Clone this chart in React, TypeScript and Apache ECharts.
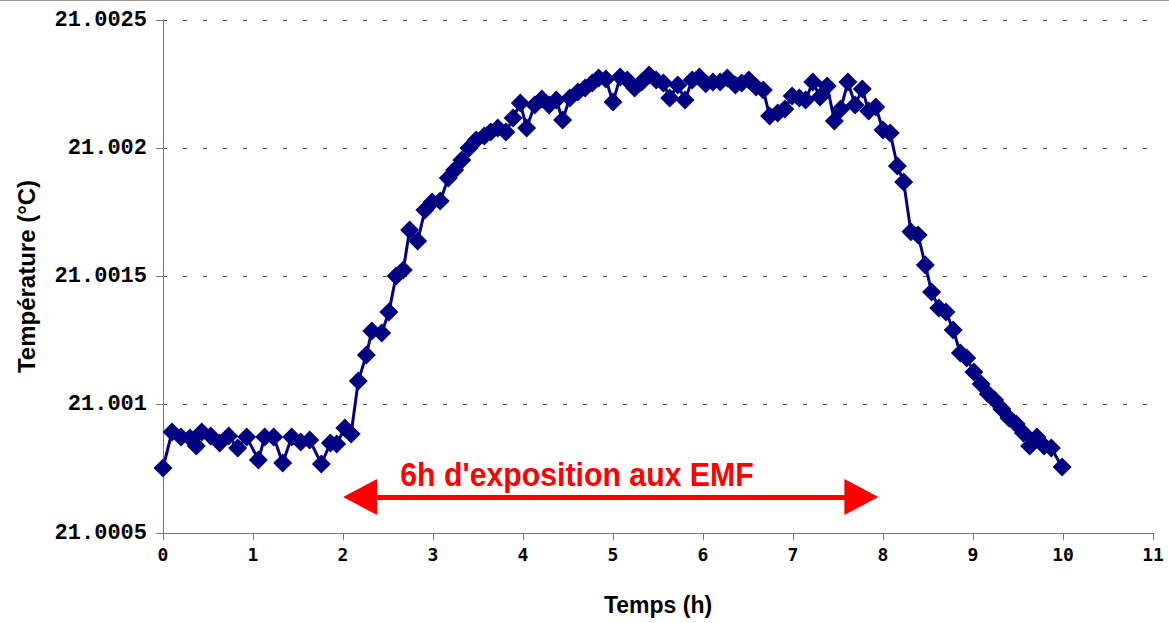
import React, { useEffect, useRef } from "react";
import * as echarts from "echarts";

const timeHours: number[] = [
  0.0, 0.1, 0.2, 0.3, 0.37, 0.43, 0.53, 0.63, 0.73, 0.83, 0.93, 1.06, 1.13, 1.23, 1.33, 1.43, 1.53, 1.63, 1.76, 1.86,
  1.93, 2.02, 2.09, 2.17, 2.26, 2.32, 2.43, 2.51, 2.59, 2.67, 2.74, 2.83, 2.91, 2.99, 3.08, 3.17, 3.24, 3.32, 3.4, 3.48,
  3.57, 3.64, 3.72, 3.81, 3.89, 3.97, 4.04, 4.13, 4.21, 4.29, 4.37, 4.44, 4.52, 4.61, 4.69, 4.77, 4.84, 4.92, 5.0, 5.08,
  5.16, 5.24, 5.32, 5.4, 5.48, 5.56, 5.63, 5.72, 5.8, 5.88, 5.96, 6.03, 6.11, 6.19, 6.27, 6.36, 6.43, 6.51, 6.59, 6.67,
  6.74, 6.83, 6.91, 6.99, 7.07, 7.14, 7.22, 7.3, 7.38, 7.46, 7.53, 7.61, 7.69, 7.77, 7.84, 7.92, 8.0, 8.08, 8.16, 8.23,
  8.31, 8.39, 8.47, 8.54, 8.62, 8.7, 8.78, 8.86, 8.93, 9.01, 9.09, 9.17, 9.24, 9.32, 9.4, 9.48, 9.56, 9.63, 9.71, 9.79,
  9.87, 9.99,
];

const temperature: number[] = [
  21.000753, 21.000894, 21.000874, 21.00087, 21.000839, 21.000894, 21.000878, 21.000851, 21.000878, 21.000831,
  21.000874, 21.000785, 21.000874, 21.000874, 21.000773, 21.000874, 21.000855, 21.000863, 21.000769, 21.000851,
  21.000847, 21.000909, 21.000886, 21.001093, 21.001194, 21.001288, 21.00128, 21.001362, 21.001502, 21.001525,
  21.001681, 21.001638, 21.001759, 21.00179, 21.001794, 21.001884, 21.001915, 21.001954, 21.002001, 21.002032,
  21.002048, 21.002063, 21.002079, 21.002063, 21.002118, 21.002176, 21.002079, 21.002169, 21.002192, 21.002169,
  21.002188, 21.00211, 21.002196, 21.002219, 21.002235, 21.002254, 21.002274, 21.00227, 21.00218, 21.002278,
  21.002266, 21.002235, 21.002258, 21.002286, 21.002266, 21.002254, 21.002196, 21.002247, 21.002188, 21.002266,
  21.002278, 21.002251, 21.002258, 21.002258, 21.002274, 21.002247, 21.002254, 21.002266, 21.002239, 21.002227,
  21.002126, 21.002137, 21.002153, 21.002204, 21.002196, 21.002188, 21.002258, 21.0022, 21.002243, 21.002106,
  21.002153, 21.002258, 21.002169, 21.002231, 21.002145, 21.002161, 21.002071, 21.002059, 21.001931, 21.001868,
  21.001674, 21.001662, 21.001545, 21.00144, 21.001377, 21.001362, 21.001291, 21.001202, 21.001182, 21.001128,
  21.001081, 21.001042, 21.001019, 21.000983, 21.000948, 21.000925, 21.00089, 21.000839, 21.000874, 21.000839,
  21.000831, 21.000757,
];

const yTicks = { min: 21.0005, max: 21.0025, interval: 0.0005 };
const xTicks = { min: 0, max: 11, interval: 1 };

const exposureStart = 2.19;
const exposureEnd = 7.76;
const exposureLevel = 21.00064;
const annotationText = "6h d'exposition aux EMF";

export default function App() {
  const ref = useRef<HTMLDivElement>(null);

  useEffect(() => {
    if (!ref.current) return;
    const chart = echarts.init(ref.current, undefined, { renderer: "svg" });
    const data = timeHours.map((t, i) => [t, temperature[i]]);
    const navy = "#000080";
    chart.setOption({
      animation: false,
      backgroundColor: "#ffffff",
      grid: { left: 163, right: 16, top: 20, bottom: 90, containLabel: false },
      xAxis: {
        type: "value",
        min: xTicks.min,
        max: xTicks.max,
        interval: xTicks.interval,
        name: "Temps (h)",
        nameLocation: "middle",
        nameGap: 60,
        nameTextStyle: { fontFamily: "Liberation Sans", fontWeight: "bold", fontSize: 23, color: "#000" },
        axisLine: { show: true, onZero: false, lineStyle: { color: "#777", width: 1 } },
        axisTick: { show: true, length: 7, lineStyle: { color: "#777" } },
        axisLabel: {
          margin: 12,
          fontFamily: "DejaVu Sans Mono",
          fontWeight: "bold",
          fontSize: 18,
          color: "#000",
        },
        splitLine: { show: false },
      },
      yAxis: {
        type: "value",
        min: yTicks.min,
        max: yTicks.max,
        interval: yTicks.interval,
        name: "Température (°C)",
        nameLocation: "middle",
        nameGap: 125,
        nameTextStyle: { fontFamily: "Liberation Sans", fontWeight: "bold", fontSize: 24, color: "#000" },
        axisLine: { show: true, lineStyle: { color: "#777", width: 1 } },
        axisTick: { show: true, length: 7, lineStyle: { color: "#777" } },
        axisLabel: {
          margin: 16,
          fontFamily: "Liberation Mono",
          fontWeight: "bold",
          fontSize: 22,
          color: "#000",
          formatter: (v: number) => String(+v.toFixed(4)),
        },
        splitLine: { show: true, lineStyle: { color: "#555", type: [4, 16], width: 1 } },
      },
      series: [
        {
          type: "line",
          data,
          symbol: "diamond",
          symbolSize: 19,
          showAllSymbol: true,
          itemStyle: { color: navy },
          lineStyle: { color: navy, width: 3 },
          z: 3,
          markLine: {
            silent: true,
            symbol: ["triangle", "triangle"],
            symbolSize: [36, 34],
            label: { show: false },
            lineStyle: { color: "#ff0000", width: 5, type: "solid" },
            itemStyle: { color: "#ff0000" },
            emphasis: { disabled: true },
            data: [[{ coord: [exposureStart, exposureLevel] }, { coord: [exposureEnd, exposureLevel] }]],
          },
        },
      ],
      graphic: [
        {
          type: "line",
          shape: { x1: 0, y1: 0.5, x2: 1169, y2: 0.5 },
          style: { stroke: "#999", lineWidth: 1 },
          silent: true,
        },
        {
          type: "text",
          x: 577,
          y: 474,
          scaleX: 0.89,
          style: {
            text: annotationText,
            x: 0,
            y: 0,
            fill: "#ff0000",
            font: 'bold 34px "Liberation Sans"',
            fontFamily: "Liberation Sans",
            fontWeight: "bold",
            fontSize: 34,
            align: "center",
            verticalAlign: "middle",
            textAlign: "center",
            textVerticalAlign: "middle",
          },
        },
      ],
    });
    return () => chart.dispose();
  }, []);

  return (
    <div
      ref={ref}
      style={{ position: "fixed", left: 0, top: 0, width: 1169, height: 623, background: "#fff" }}
    />
  );
}
